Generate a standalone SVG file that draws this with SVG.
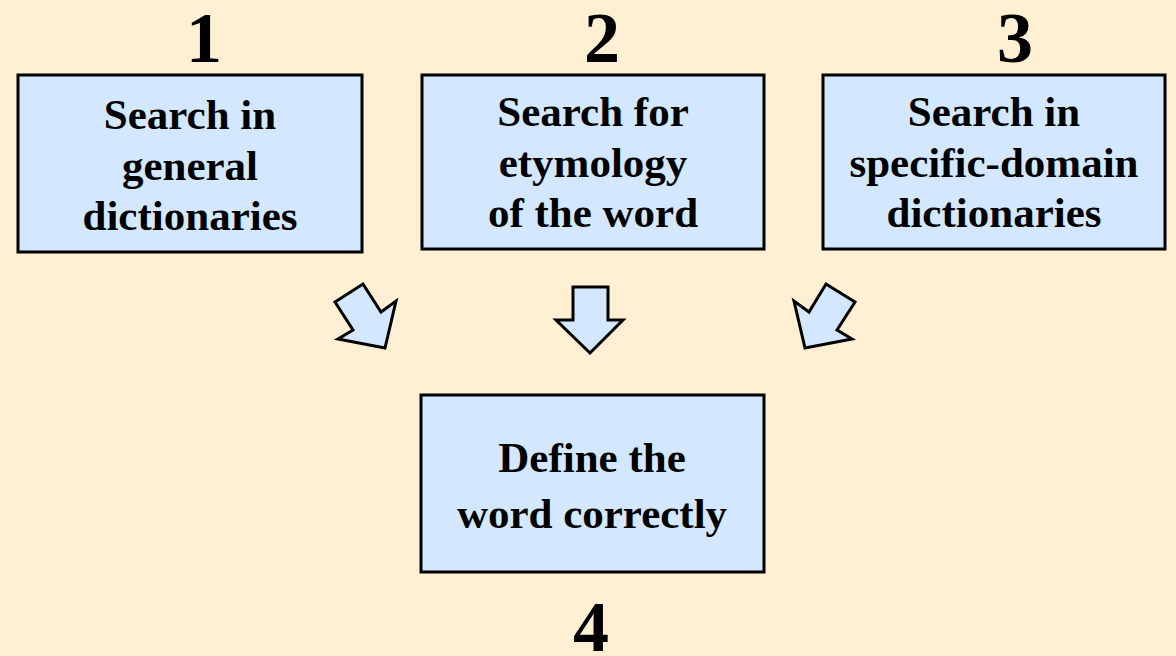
<svg xmlns="http://www.w3.org/2000/svg" width="1176" height="656" viewBox="0 0 1176 656">
  <style>
    .box { fill: #d3e8ff; stroke: #000; stroke-width: 3; }
    .arrow { fill: #d3e8ff; stroke: #000; stroke-width: 3; stroke-linejoin: miter; }
    .label { font-family: "Liberation Serif", "Times New Roman", serif; font-weight: bold; font-size: 43px; text-anchor: middle; fill: #000; }
    .num { font-family: "Liberation Serif", "Times New Roman", serif; font-weight: bold; font-size: 72px; text-anchor: middle; fill: #000; }
  </style>
  <rect width="1176" height="656" fill="#ffefd3"/>

  <g id="node1">
    <rect class="box" x="18" y="75" width="344" height="177"/>
    <text class="label" x="190" y="129">Search in</text>
    <text class="label" x="190" y="180">general</text>
    <text class="label" x="190" y="230">dictionaries</text>
    <text class="num" x="204" y="62">1</text>
  </g>

  <g id="node2">
    <rect class="box" x="422" y="75" width="342" height="174"/>
    <text class="label" x="593" y="126">Search for</text>
    <text class="label" x="593" y="177">etymology</text>
    <text class="label" x="593" y="227">of the word</text>
    <text class="num" x="602" y="62">2</text>
  </g>

  <g id="node3">
    <rect class="box" x="823" y="75" width="342" height="174"/>
    <text class="label" x="994" y="126">Search in</text>
    <text class="label" x="994" y="177">specific-domain</text>
    <text class="label" x="994" y="227">dictionaries</text>
    <text class="num" x="1015" y="62">3</text>
  </g>

  <g id="node4">
    <rect class="box" x="421" y="395" width="343" height="177"/>
    <text class="label" x="592" y="472">Define the</text>
    <text class="label" x="592" y="528">word correctly</text>
    <text class="num" x="591" y="651">4</text>
  </g>

  <g id="connectors">
    <polygon class="arrow" points="335,302 363,284 381,312 396,301 385,348 338,339 353,330"/>
    <polygon class="arrow" points="573,287 608,287 608,320 623,320 590,353 556,320 573,320"/>
    <polygon class="arrow" points="826,284 855,302 837,330 852,339 805,348 794,301 809,312"/>
  </g>
</svg>
